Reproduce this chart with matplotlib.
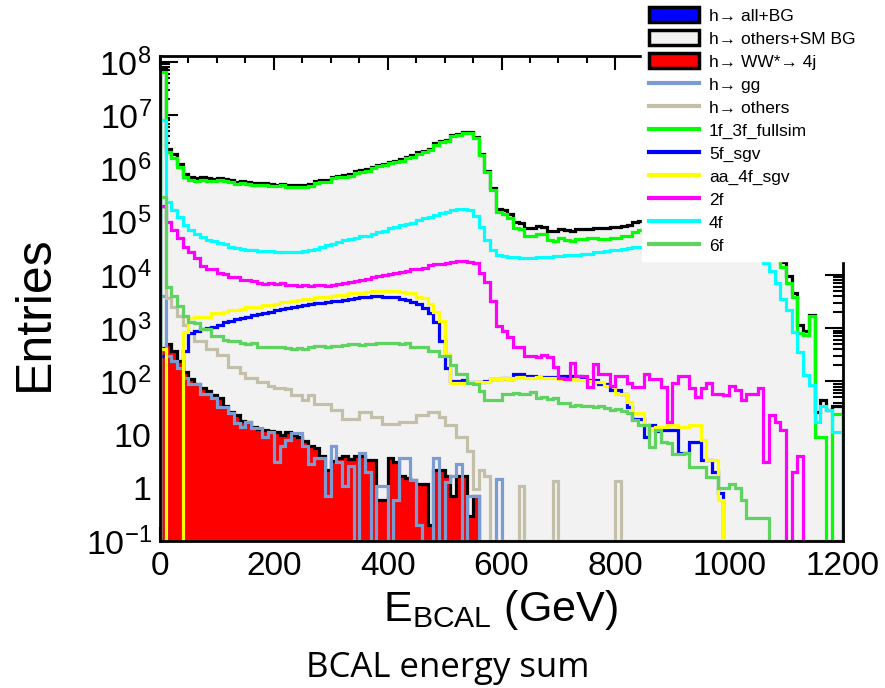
import numpy as np
import matplotlib
matplotlib.use("Agg")
import matplotlib.pyplot as plt
from matplotlib.patches import Patch, Rectangle
from matplotlib.lines import Line2D
from matplotlib.ticker import MultipleLocator, LogLocator, NullFormatter

plt.rcParams['font.family'] = ['Liberation Sans', 'DejaVu Sans']
plt.rcParams['mathtext.fontset'] = 'custom'
plt.rcParams['mathtext.rm'] = 'Liberation Sans'
plt.rcParams['mathtext.it'] = 'Liberation Sans:italic'
plt.rcParams['mathtext.bf'] = 'Liberation Sans:bold'
plt.rcParams['mathtext.default'] = 'regular'

# ---------------- data (10 GeV bins, 0..1200 GeV) ----------------
bin_edges = np.linspace(0, 1200, 121)

h_ww4j = [420, 500, 370, 245, 150, 112, 91, 74, 65, 55,
          48, 35, 27, 23, 18, 17, 14, 13, 12, 11.5,
          11, 10, 11, 10, 9, 7.5, 6, 5.5, 4, 2.2,
          3.2, 3.7, 4, 3.5, 4, 4, 3.4, 3.4, 0.6, 0.6,
          3.7, 3, 1.7, 1.5, 1.4, 1.2, 1.2, 0.2, 2.2, 2.2,
          1.7, 0.7, 1.7, 1.7, 0.3, 0.7, 0, 0, 0, 0] + [0] * 60

h_gg = [4000, 300, 245, 182, 117, 91, 91, 59, 59, 48,
        33, 33, 25, 16.5, 14, 17.5, 13.5, 13.5, 9, 11,
        3, 6, 8, 10.5, 10.5, 6, 2.8, 3.7, 3.7, 0.7,
        6, 3, 1.1, 2.6, 0, 4.6, 2, 0, 1.1, 1.1,
        0, 0.6, 3.7, 3.7, 1.4, 0.2, 0, 0, 3.7, 0,
        1.3, 1.7, 2.8, 0, 0.7, 0.7, 0, 0, 0, 1.45] + [0] * 60

h_others = [1.9e5, 3700, 2500, 1700, 1150, 800, 580, 580, 410, 410,
            310, 310, 190, 190, 142, 115, 115, 98, 98, 82,
            76, 76, 72, 56, 56, 45, 56, 37, 37, 37,
            29, 29, 20, 20, 20, 27, 27, 21, 21, 16,
            16, 16, 17, 17, 17, 23, 23, 27, 27, 21,
            15, 15, 9, 9, 4.9, 0.95, 2.2, 1.7, 0, 0,
            0, 0, 0, 1.1, 0, 0, 0, 0, 0, 1.35,
            0, 0, 0, 0, 0, 0, 0, 0, 0, 0,
            1.35, 0, 0, 0, 0, 0, 0, 0, 0, 0] + [0] * 30

bg_1f3f = [6.5e7, 2.0e6, 1.6e6, 1.05e6, 6.8e5, 6.0e5, 5.8e5, 6.1e5, 5.9e5, 5.7e5,
           6.0e5, 5.8e5, 5.6e5, 5.2e5, 5.3e5, 5.1e5, 5.0e5, 4.9e5, 5.0e5, 4.7e5,
           4.6e5, 4.8e5, 4.5e5, 4.4e5, 4.5e5, 4.4e5, 4.6e5, 5.3e5, 5.5e5, 5.6e5,
           6.5e5, 6.8e5, 7.0e5, 7.3e5, 8.2e5, 8.5e5, 9.0e5, 1.0e6, 1.1e6, 1.15e6,
           1.25e6, 1.3e6, 1.4e6, 1.55e6, 1.65e6, 1.9e6, 2.0e6, 2.2e6, 2.8e6, 3.1e6,
           3.3e6, 4.0e6, 4.3e6, 4.6e6, 4.6e6, 3.7e6, 1.8e6, 8.5e5, 3.9e5, 1.5e5,
           1.4e5, 1.15e5, 7.5e4, 7.2e4, 5.5e4, 5.3e4, 6.0e4, 5.8e4, 4.5e4, 4.4e4,
           5.0e4, 4.5e4, 4.4e4, 4.7e4, 4.8e4, 4.9e4, 5.0e4, 4.7e4, 4.8e4, 5.0e4,
           4.9e4, 5.4e4, 5.5e4, 6.5e4, 7.0e4, 7.5e4, 7.8e4, 8.0e4, 8.3e4, 8.5e4,
           8.8e4, 9.0e4, 9.3e4, 9.5e4, 9.8e4, 1.0e5, 1.02e5, 1.05e5, 1.05e5, 1.07e5,
           1.05e5, 1.03e5, 1.0e5, 9.5e4, 8.5e4, 7.0e4, 5.5e4, 4.0e4, 2.5e4, 1.4e4,
           7.2e3, 3.8e3, 800, 750, 1700, 9, 9, 0, 24, 24]

bg_5f = [300, 0, 0, 0, 380, 800, 900, 960, 1020, 1060,
         1150, 1300, 1380, 1470, 1550, 1640, 1740, 1830, 1940, 2050,
         2150, 2270, 2400, 2530, 2640, 2730, 2830, 2940, 3030, 3130,
         3200, 3300, 3350, 3500, 3650, 3800, 3900, 3950, 3950, 3900,
         3850, 3800, 3600, 3350, 3050, 2800, 2350, 1900, 1300, 580,
         175, 100, 100, 104, 96, 96, 96, 100, 112, 110,
         115, 112, 140, 140, 126, 126, 123, 123, 120, 123,
         125, 128, 125, 125, 122, 105, 105, 91, 91, 68,
         68, 59, 33, 20, 20, 9, 15, 11.5, 12, 12,
         12, 4.6, 4.6, 7.4, 7.4, 3.4, 3.4, 2, 0.8, 0] + [0] * 20

bg_aa4f = [400, 0, 0, 0, 850, 1550, 1600, 1620, 1650, 1900,
           1950, 2000, 2150, 2200, 2250, 2450, 2500, 2550, 2700, 2750,
           2800, 3100, 3150, 3200, 3450, 3500, 3550, 3800, 3850, 3900,
           4100, 4150, 4200, 4500, 4550, 4600, 4850, 4900, 5000, 5000,
           5050, 5000, 4700, 4650, 4600, 3800, 3700, 2900, 2000, 1350,
           330, 92, 92, 95, 96, 96, 98, 98, 112, 110,
           115, 112, 117, 120, 118, 117, 120, 117, 118, 117,
           112, 112, 110, 105, 105, 100, 96, 96, 83, 83,
           59, 59, 41, 25, 25, 15, 12, 14, 14, 15,
           15, 14, 14, 15, 15, 8, 3.4, 3.4, 0.6, 0] + [0] * 20

bg_2f = [2e5, 1.0e5, 7.0e4, 4.9e4, 3.4e4, 2.7e4, 2.1e4, 1.5e4, 1.32e4, 1.3e4,
         1.07e4, 1.05e4, 9.1e3, 9.0e3, 8.0e3, 7.9e3, 7.8e3, 7.0e3, 6.8e3, 7.1e3,
         6.7e3, 6.9e3, 6.4e3, 6.6e3, 6.3e3, 6.5e3, 6.2e3, 6.6e3, 6.4e3, 6.3e3,
         6.5e3, 6.7e3, 7.2e3, 7.5e3, 7.8e3, 8.1e3, 8.5e3, 9.0e3, 9.5e3, 1.0e4,
         1.05e4, 1.1e4, 1.15e4, 1.2e4, 1.3e4, 1.32e4, 1.35e4, 1.55e4, 1.6e4, 1.6e4,
         1.7e4, 1.72e4, 1.8e4, 1.8e4, 1.75e4, 1.7e4, 1.07e4, 7.4e3, 3.3e3, 1.12e3,
         900, 670, 450, 450, 300, 300, 290, 310, 290, 185,
         115, 112, 224, 126, 126, 78, 214, 138, 138, 83,
         126, 126, 95, 80, 80, 138, 112, 112, 78, 17,
         95, 126, 126, 74, 50, 74, 95, 59, 59, 55,
         83, 70, 44, 59, 59, 74, 3, 23, 17, 12,
         0, 2, 4, 0, 0, 0, 0, 0, 0, 0]

bg_4f = [8e6, 2.35e5, 1.66e5, 1.23e5, 8.7e4, 7.0e4, 6.0e4, 5.2e4, 4.5e4, 4.3e4,
         4.0e4, 3.8e4, 3.3e4, 3.2e4, 3.1e4, 3.0e4, 2.9e4, 2.85e4, 2.8e4, 2.8e4,
         2.75e4, 2.7e4, 2.7e4, 2.7e4, 2.75e4, 2.8e4, 2.9e4, 3.1e4, 3.3e4, 3.6e4,
         3.8e4, 4.1e4, 4.5e4, 4.8e4, 5.0e4, 5.3e4, 5.5e4, 6.0e4, 6.3e4, 6.7e4,
         7.5e4, 8.0e4, 8.5e4, 9.0e4, 9.5e4, 1.07e5, 1.15e5, 1.25e5, 1.35e5, 1.45e5,
         1.55e5, 1.65e5, 1.7e5, 1.7e5, 1.65e5, 1.3e5, 7.8e4, 4.5e4, 3.0e4, 2.4e4,
         2.3e4, 2.2e4, 2.15e4, 2.1e4, 2.1e4, 2.1e4, 2.15e4, 2.2e4, 2.2e4, 2.25e4,
         2.3e4, 2.35e4, 2.35e4, 2.4e4, 2.45e4, 2.5e4, 2.7e4, 2.75e4, 2.8e4, 3.0e4,
         3.0e4, 3.05e4, 3.2e4, 3.3e4, 3.3e4, 3.4e4, 3.5e4, 3.6e4, 3.7e4, 3.8e4,
         3.9e4, 4.0e4, 4.1e4, 4.2e4, 4.3e4, 4.3e4, 4.4e4, 4.4e4, 4.3e4, 4.2e4,
         4.0e4, 3.8e4, 3.5e4, 3.1e4, 2.7e4, 2.2e4, 1.7e4, 1.2e4, 7.0e3, 3.6e3,
         2.2e3, 830, 350, 130, 85, 17, 35, 29, 11, 11]

bg_6f = [2.9e5, 5900, 4000, 2600, 1700, 1300, 1250, 980, 950, 720,
         700, 590, 580, 570, 520, 510, 515, 450, 445, 440,
         450, 440, 430, 410, 415, 410, 450, 455, 460, 450,
         460, 470, 490, 500, 495, 490, 505, 500, 520, 515,
         525, 520, 510, 515, 450, 445, 440, 380, 370, 305,
         300, 200, 140, 138, 92, 90, 66, 44, 45, 44,
         59, 58, 60, 57, 59, 64, 48, 50, 47, 48,
         39, 40, 35, 36, 34, 35, 33, 34, 32, 29,
         30, 28, 25, 19, 15, 15, 5.8, 12, 7.4, 7,
         4.3, 4.3, 4.6, 2.5, 2.5, 2.5, 1.6, 1.6, 1.0, 1.0,
         1.2, 1.0, 0.58, 0.27, 0.27, 0.27, 0.27, 0, 0, 0] + [0] * 10

y_tick_vals = [1e-1, 1, 10, 1e2, 1e3, 1e4, 1e5, 1e6, 1e7, 1e8]
y_tick_labels = [r'$10^{-1}$', '1', '10', r'$10^{2}$', r'$10^{3}$', r'$10^{4}$',
                 r'$10^{5}$', r'$10^{6}$', r'$10^{7}$', r'$10^{8}$']
x_tick_vals = [0, 200, 400, 600, 800, 1000, 1200]

legend_labels = ['h\u2192 all+BG', 'h\u2192 others+SM BG', 'h\u2192 WW*\u2192 4j',
                 'h\u2192 gg', 'h\u2192 others', '1f_3f_fullsim', '5f_sgv',
                 'aa_4f_sgv', '2f', '4f', '6f']

# ---------------- plotting ----------------
YMIN, YMAX = 0.1, 1.3e8
OFF = 1e-3

W, H = 885, 688
fig = plt.figure(figsize=(W / 100, H / 100), dpi=100)
ax = fig.add_axes([160 / W, 1 - 541 / H, (843 - 160) / W, (541 - 56) / H])
ax.set_yscale('log')

arr = lambda v: np.asarray(v, dtype=float)
bg_sum = (arr(h_gg) + arr(h_others) + arr(bg_1f3f) + arr(bg_5f) + arr(bg_aa4f)
          + arr(bg_2f) + arr(bg_4f) + arr(bg_6f))
all_sum = bg_sum + arr(h_ww4j)

def floor(v, f):
    v = arr(v)
    return np.where(v > 0, v, f)

# stacked totals
ax.stairs(floor(all_sum, YMIN), bin_edges, baseline=OFF, fill=True,
          facecolor='#0000ff', edgecolor='none', zorder=1.0)
ax.stairs(floor(bg_sum, YMIN), bin_edges, baseline=OFF, fill=True,
          facecolor='#f2f2f2', edgecolor='none', zorder=1.1)
ax.stairs(floor(bg_sum, YMIN), bin_edges, baseline=OFF, color='black',
          linewidth=2.3, zorder=1.2)
# signal WW* -> 4j
ax.stairs(floor(h_ww4j, OFF), bin_edges, baseline=OFF, fill=True,
          facecolor='#ff0000', edgecolor='none', zorder=1.3)
ax.stairs(floor(h_ww4j, OFF), bin_edges, baseline=OFF, color='black',
          linewidth=2.3, zorder=1.4)

line_specs = [
    (h_gg, '#7b9bd3', YMIN),
    (h_others, '#c3bfa8', YMIN),
    (bg_1f3f, '#00ff00', OFF),
    (bg_5f, '#0000ff', OFF),
    (bg_aa4f, '#ffff00', OFF),
    (bg_2f, '#ff00ff', OFF),
    (bg_4f, '#00ffff', OFF),
    (bg_6f, '#5fd35f', OFF),
]
for i, (vals, col, fl) in enumerate(line_specs):
    ax.stairs(floor(vals, fl), bin_edges, baseline=OFF, color=col,
              linewidth=2.3, zorder=2 + 0.1 * i)

ax.set_xlim(0, 1200)
ax.set_ylim(YMIN, YMAX)
ax.set_axisbelow(True)

ax.xaxis.set_major_locator(MultipleLocator(200))
ax.xaxis.set_minor_locator(MultipleLocator(50))
ax.set_xticks(x_tick_vals)
ax.set_xticklabels([str(v) for v in x_tick_vals])
ax.set_yticks(y_tick_vals)
ax.set_yticklabels(y_tick_labels)
ax.yaxis.set_minor_locator(LogLocator(base=10, subs=np.arange(2, 10), numticks=30))
ax.yaxis.set_minor_formatter(NullFormatter())

ax.tick_params(which='both', direction='in', top=True, right=True, colors='black')
ax.tick_params(axis='x', which='major', length=10, width=1.5, labelsize=24, pad=7)
ax.tick_params(axis='x', which='minor', length=5, width=1.5)
ax.tick_params(axis='y', which='major', length=13, width=1.5, labelsize=24.5, pad=6)
ax.tick_params(axis='y', which='minor', length=7, width=1.5)
for sp in ax.spines.values():
    sp.set_linewidth(2.0)
    sp.set_color('black')
    sp.set_zorder(5)

fig.text(35 / W, 1 - 313 / H, 'Entries', rotation=90, ha='center', va='center',
         fontsize=36)
fig.text(500 / W, 1 - 610 / H, r'E$_{\mathrm{BCAL}}$ (GeV)', ha='center',
         va='center', fontsize=31)
fig.text(448 / W, 1 - 668 / H, 'BCAL energy sum', ha='center', va='center',
         fontsize=25, family=['Open Sans', 'DejaVu Sans'], zorder=1)
fig.add_artist(Rectangle((280 / W, 1 - 651 / H), 360 / W, 8 / H,
                         transform=fig.transFigure, facecolor='white',
                         edgecolor='none', zorder=2))

handles = [Patch(facecolor='#0000ff', edgecolor='black', linewidth=2.5),
           Patch(facecolor='#f2f2f2', edgecolor='black', linewidth=2.5),
           Patch(facecolor='#ff0000', edgecolor='black', linewidth=2.5)]
for vals, col, fl in line_specs:
    handles.append(Line2D([], [], color=col, linewidth=3))

fig.legend(handles, legend_labels, loc='upper left',
           bbox_to_anchor=(642 / W, 1.0), bbox_transform=fig.transFigure,
           frameon=True, facecolor='white', edgecolor='white', framealpha=1,
           fancybox=False, borderaxespad=0, fontsize=12.5, handlelength=2.9,
           handleheight=1.0, handletextpad=0.55, labelspacing=0.36,
           borderpad=0.4)

fig.savefig('out.png', dpi=100, facecolor='white')
